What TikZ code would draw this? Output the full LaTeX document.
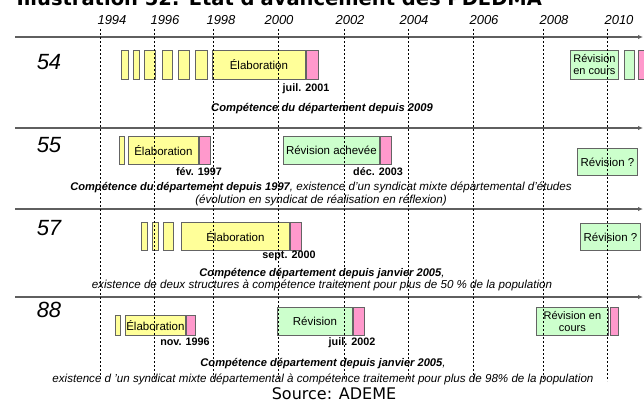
\documentclass[tikz,border=0pt]{standalone}
\usepackage{fontspec}
\setmainfont{Liberation Sans}
\newfontfamily\dejavu{DejaVu Sans}
\usetikzlibrary{
  positioning,
  arrows.meta
}
\definecolor{elabfill}{RGB}{255,255,153}
\definecolor{revfill}{RGB}{204,255,204}
\definecolor{endfill}{RGB}{255,153,204}
\definecolor{boxline}{RGB}{100,100,100}
\definecolor{axiscolor}{RGB}{95,95,95}
\tikzset{
  phasebox/.style={
    draw=boxline, line width=0.8pt, inner sep=1pt, anchor=north west,
    minimum height=29pt, font=\fontsize{11.5}{12.5}\selectfont
  },
  elabbox/.style={phasebox, fill=elabfill},
  revbox/.style={phasebox, fill=revfill},
  endbox/.style={phasebox, fill=endfill},
  datelabel/.style={font=\fontsize{10.8}{12}\selectfont\bfseries},
  notetext/.style={font=\fontsize{11.6}{13}\selectfont\itshape, align=center},
  notebold/.style={font=\fontsize{11.2}{13}\selectfont\bfseries\itshape},
  rowlabel/.style={font=\fontsize{22}{24}\selectfont\itshape},
  yearlabel/.style={font=\fontsize{13}{15}\selectfont\itshape},
  timeaxis/.style={
    draw=axiscolor, line width=1.1pt, -{Latex[length=5pt,width=4.5pt]}
  },
  yearline/.style={dash pattern=on 2pt off 2pt, line width=0.6pt}
}
\newcommand{\boldpart}[1]{{\fontsize{11.1}{13}\selectfont\bfseries #1}}
\begin{document}
\begin{tikzpicture}[x=1pt, y=-1pt]
  \useasboundingbox (0,0) rectangle (644,407);
  \clip (0,0) rectangle (644,407);

  % title (cut by the page edge)
  \node[anchor=base west, font=\dejavu\fontsize{19.5}{22}\selectfont\bfseries]
    (title) at (13,5) {Illustration 52: Etat d'avancement des PDEDMA};

  % time axes
  \foreach \r/\y in {54/37, 55/128, 57/209, 88/297} {
    \coordinate (ax\r-s) at (15,\y);
    \coordinate (ax\r-e) at (643,\y);
    \draw[timeaxis] (ax\r-s) -- (ax\r-e);
  }

  % row labels
  \node[rowlabel] (r54) at (49,62) {54};
  \node[rowlabel] (r55) at (49,145) {55};
  \node[rowlabel] (r57) at (49,228) {57};
  \node[rowlabel] (r88) at (49,310) {88};

  % --- 54 ---
  \foreach \x/\w [count=\i] in {121/7, 133/6, 144/11, 162/10, 178/11, 195/12}
    \node[elabbox, minimum width=\w pt] (s54-\i) at (\x,50) {};
  \node[elabbox, minimum width=93pt] (e54) at (212,50) {Élaboration};
  \node[endbox, minimum width=12pt, right=0pt of e54] (p54) {};
  \node[datelabel] (d54) at (306,89) {juil. 2001};
  \node[revbox, minimum width=48pt, align=left, font=\fontsize{11}{12}\selectfont]
    (v54) at (570,50) {Révision\\en cours};
  \node[revbox, minimum width=10pt] (w54) at (624,50) {};
  \node[endbox, minimum width=12pt] (q54) at (638,50) {};
  \node[notebold] (n54) at (322,109) {Compétence du département depuis 2009};

  % --- 55 ---
  \node[elabbox, minimum width=5pt, minimum height=28pt] (s55-1) at (119,136) {};
  \node[elabbox, minimum width=70pt, minimum height=28pt] (e55) at (128,136) {Élaboration};
  \node[endbox, minimum width=11pt, minimum height=28pt, right=0pt of e55] (p55) {};
  \node[datelabel] (d55) at (199,172) {fév. 1997};
  \node[revbox, minimum width=96pt, minimum height=28pt] (v55) at (283,136) {Révision achevée};
  \node[endbox, minimum width=11pt, minimum height=28pt, right=0pt of v55] (q55) {};
  \node[datelabel] (f55) at (378,172) {déc. 2003};
  \node[revbox, minimum width=60pt, minimum height=27pt] (x55) at (577,148) {Révision ?};
  \node[notetext] (n55) at (321,193.5)
    {\boldpart{Compétence du département depuis 1997}, existence d'un syndicat mixte départemental d'études\\
     (évolution en syndicat de réalisation en réflexion)};

  % --- 57 ---
  \foreach \x/\w [count=\i] in {141/6, 152/6, 163/10}
    \node[elabbox, minimum width=\w pt, minimum height=28pt] (s57-\i) at (\x,222) {};
  \node[elabbox, minimum width=108pt, minimum height=28pt] (e57) at (181,222) {Élaboration};
  \node[endbox, minimum width=11pt, minimum height=28pt, right=0pt of e57] (p57) {};
  \node[datelabel] (d57) at (289,256) {sept. 2000};
  \node[revbox, minimum width=60pt, minimum height=27pt] (x57) at (580,223) {Révision ?};
  \node[notetext] (n57) at (322,279.5)
    {\boldpart{Compétence département depuis janvier 2005},\\[-1pt]
     existence de deux structures à compétence traitement pour plus de 50~\% de la population};

  % --- 88 ---
  \node[elabbox, minimum width=5pt, minimum height=20pt] (s88-1) at (115,315) {};
  \node[elabbox, minimum width=60pt, minimum height=20pt, inner sep=0pt] (e88) at (125,315) {Élaboration};
  \node[endbox, minimum width=9pt, minimum height=20pt, right=0pt of e88] (p88) {};
  \node[datelabel] (d88) at (185,342) {nov. 1996};
  \node[revbox, minimum width=75pt, minimum height=28pt] (v88) at (277,307) {Révision};
  \node[endbox, minimum width=11pt, minimum height=28pt, right=0pt of v88] (q88) {};
  \node[datelabel] (f88) at (352,343) {juil. 2002};
  \node[revbox, minimum width=72pt, minimum height=28pt, align=center, font=\fontsize{11}{12}\selectfont]
    (x88) at (536,307) {Révision en\\cours};
  \node[endbox, minimum width=8pt, minimum height=28pt] (y88) at (610,307) {};
  \node[notetext] (n88) at (323,372)
    {\boldpart{Compétence département depuis janvier 2005},\\[3pt]
     existence d 'un syndicat mixte départemental à compétence traitement pour plus de 98\% de la population};

  % years and their dashed lines (over the boxes)
  \foreach \x/\yr/\lx in {100/1994/112, 154/1996/165, 213/1998/221, 278/2000/279,
                          344/2002/350, 408/2004/414, 473/2006/484, 543/2008/554, 607/2010/619} {
    \node[yearlabel] (y\yr) at (\lx,20) {\yr};
    \coordinate (t\yr) at (\x,29);
    \coordinate (b\yr) at (\x,381);
    \draw[yearline] (t\yr) -- (b\yr);
  }

  \node[font=\dejavu\fontsize{16}{18}\selectfont] (src) at (334,394) {Source: ADEME};
\end{tikzpicture}
\end{document}
